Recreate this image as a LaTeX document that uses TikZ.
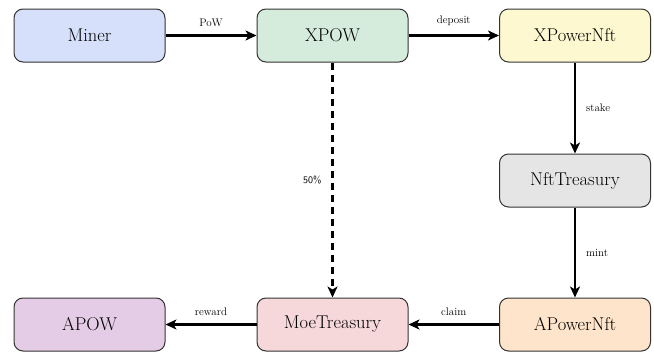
\documentclass[tikz,border=0pt]{standalone}
\usepackage{fontspec}
\usetikzlibrary{arrows.meta}
\definecolor{cminer}{HTML}{D6E0FB}
\definecolor{cxpow}{HTML}{D5EBDB}
\definecolor{cxpnft}{HTML}{FDF8D0}
\definecolor{cnft}{HTML}{E5E5E5}
\definecolor{capnft}{HTML}{FDE4CB}
\definecolor{cmoe}{HTML}{F6D7DA}
\definecolor{capow}{HTML}{E5CCE6}
\definecolor{cborder}{HTML}{333333}
\tikzset{
  box/.style={draw=cborder, line width=1pt, rounded corners=9pt,
    minimum width=151pt, minimum height=53pt, inner sep=0pt,
    font=\rmfamily\fontsize{18.5}{22}\selectfont},
  flow/.style={line width=2.2pt, -{Stealth[length=11pt,width=10pt,inset=3pt]}},
  lab/.style={font=\rmfamily\fontsize{11}{13}\selectfont, inner sep=2pt},
}
\begin{document}
\begin{tikzpicture}[x=1pt,y=-1pt]
\useasboundingbox (0,0) rectangle (654,354);
\node[box, fill=cminer] (miner) at (89.5,35.5) {Miner};
\node[box, fill=cxpow] (xpow) at (332.5,35.5) {XPOW};
\node[box, fill=cxpnft] (xpnft) at (575,35.5) {XPowerNft};
\node[box, fill=cnft] (nft) at (575,180.5) {NftTreasury};
\node[box, fill=capnft] (apnft) at (575,324.5) {APowerNft};
\node[box, fill=cmoe] (moe) at (332.5,324.5) {MoeTreasury};
\node[box, fill=capow] (apow) at (89.5,324.5) {APOW};

\draw[flow] (miner) -- node[lab, above=6pt] {PoW} (xpow);
\draw[flow] (xpow) -- node[lab, above=7pt] {deposit} (xpnft);
\draw[flow] (xpnft) -- node[lab, right=8pt] {stake} (nft);
\draw[flow] (nft) -- node[lab, right=8pt] {mint} (apnft);
\draw[flow] (apnft) -- node[lab, above=6pt] {claim} (moe);
\draw[flow] (moe) -- node[lab, above=6pt] {reward} (apow);
\draw[flow, dash pattern=on 7pt off 5pt] (xpow) -- node[lab, left=8pt, font=\sffamily\fontsize{10}{12}\selectfont] {50\%} (moe);
\end{tikzpicture}
\end{document}
